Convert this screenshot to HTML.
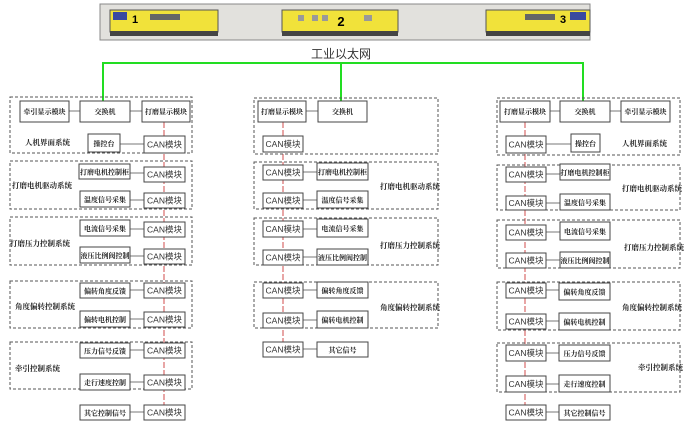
<!DOCTYPE html>
<html><head><meta charset="utf-8"><style>
body{margin:0;background:#fff;width:684px;height:423px;overflow:hidden}
svg{display:block}
.g{fill:none;stroke:#555;stroke-width:1;stroke-dasharray:3,2}
.b{fill:#fff;stroke:#444;stroke-width:1}
.t{font-family:"Liberation Serif","Noto Serif CJK SC",serif;font-size:7px;font-weight:bold;fill:#222;text-anchor:middle}
.c{font-family:"Liberation Sans","Noto Sans CJK SC",sans-serif;font-size:8.5px;fill:#333;text-anchor:middle}
.l{font-family:"Liberation Serif","Noto Serif CJK SC",serif;font-size:7.5px;font-weight:bold;fill:#222}
.k{stroke:#777;stroke-width:1}
.r{stroke:#d86a6a;stroke-width:1.2;stroke-dasharray:6,2}
.gr{stroke:#22dd22;stroke-width:2;fill:none}
</style></head><body>
<svg width="684" height="423" viewBox="0 0 684 423">
<rect x="100" y="4" width="490" height="36" fill="#e2e1dd" stroke="#888"/>
<g>
<rect x="110" y="10" width="108" height="22" fill="#f1e23a" stroke="#555"/>
<rect x="113" y="12" width="14" height="8" fill="#3a4aa0"/>
<text x="132" y="23" font-family="Liberation Sans" font-weight="bold" font-size="11">1</text>
<rect x="150" y="14" width="30" height="6" fill="#666"/>
<rect x="110" y="31" width="108" height="5" fill="#444"/>
<rect x="282" y="10" width="116" height="22" fill="#f1e23a" stroke="#555"/>
<rect x="298" y="15" width="6" height="6" fill="#999"/><rect x="312" y="15" width="6" height="6" fill="#999"/><rect x="322" y="15" width="6" height="6" fill="#999"/><rect x="364" y="15" width="8" height="6" fill="#999"/>
<text x="341" y="26" font-family="Liberation Sans" font-weight="bold" font-size="13" text-anchor="middle">2</text>
<rect x="282" y="31" width="116" height="5" fill="#444"/>
<rect x="486" y="10" width="104" height="22" fill="#f1e23a" stroke="#555"/>
<rect x="570" y="12" width="16" height="8" fill="#3a4aa0"/>
<text x="560" y="23" font-family="Liberation Sans" font-weight="bold" font-size="11">3</text>
<rect x="525" y="14" width="30" height="6" fill="#666"/>
<rect x="486" y="31" width="104" height="5" fill="#444"/>
</g>
<text x="341" y="58" font-family="Liberation Sans,'Noto Sans CJK SC',sans-serif" font-size="12" text-anchor="middle" fill="#333">工业以太网</text>
<polyline class="gr" points="103,101 103,63 583,63 583,101"/>
<line class="gr" x1="341" y1="63" x2="341" y2="101"/>

<line class="r" x1="164" y1="122" x2="164" y2="405"/>
<rect class="g" x="10" y="97" width="182" height="56"/>
<rect class="g" x="10" y="161" width="182" height="48"/>
<rect class="g" x="10" y="217" width="182" height="48"/>
<rect class="g" x="10" y="281" width="182" height="47"/>
<rect class="g" x="10" y="342" width="182" height="47"/>
<g class="k">
<line x1="69" y1="111" x2="80" y2="111"/><line x1="130" y1="111" x2="142" y2="111"/>
<line x1="120" y1="144" x2="144" y2="144"/><line x1="130" y1="173" x2="144" y2="173"/>
<line x1="130" y1="200" x2="144" y2="200"/><line x1="130" y1="229" x2="144" y2="229"/>
<line x1="130" y1="256" x2="144" y2="256"/><line x1="130" y1="290" x2="144" y2="290"/>
<line x1="130" y1="319" x2="144" y2="319"/><line x1="130" y1="350" x2="144" y2="350"/>
<line x1="130" y1="382" x2="144" y2="382"/><line x1="130" y1="412" x2="144" y2="412"/>
</g>
<rect class="b" x="20" y="101" width="49" height="21"/><text class="t" x="44.5" y="114">牵引显示模块</text>
<rect class="b" x="80" y="101" width="50" height="21"/><text class="t" x="105" y="114">交换机</text>
<rect class="b" x="142" y="101" width="48" height="21"/><text class="t" x="166" y="114">打磨显示模块</text>
<rect class="b" x="88" y="134" width="32" height="18"/><text class="t" x="104" y="146">操控台</text>
<rect class="b" x="144" y="136" width="41" height="17"/><text class="c" x="164.5" y="147.5">CAN模块</text>
<rect class="b" x="79" y="164" width="51" height="15"/><text class="t" x="104.5" y="174.5">打磨电机控制柜</text>
<rect class="b" x="144" y="167" width="41" height="15"/><text class="c" x="164.5" y="177.5">CAN模块</text>
<rect class="b" x="80" y="191" width="50" height="16"/><text class="t" x="105" y="202">温度信号采集</text>
<rect class="b" x="144" y="193" width="41" height="15"/><text class="c" x="164.5" y="203.5">CAN模块</text>
<rect class="b" x="80" y="220" width="50" height="16"/><text class="t" x="105" y="231">电流信号采集</text>
<rect class="b" x="144" y="222" width="41" height="15"/><text class="c" x="164.5" y="232.5">CAN模块</text>
<rect class="b" x="80" y="247" width="50" height="16"/><text class="t" x="105" y="258">液压比例阀控制</text>
<rect class="b" x="144" y="249" width="41" height="15"/><text class="c" x="164.5" y="259.5">CAN模块</text>
<rect class="b" x="80" y="283" width="50" height="15"/><text class="t" x="105" y="293.5">偏转角度反馈</text>
<rect class="b" x="144" y="283" width="41" height="15"/><text class="c" x="164.5" y="293.5">CAN模块</text>
<rect class="b" x="80" y="311" width="50" height="16"/><text class="t" x="105" y="322">偏转电机控制</text>
<rect class="b" x="144" y="312" width="41" height="15"/><text class="c" x="164.5" y="322.5">CAN模块</text>
<rect class="b" x="80" y="343" width="50" height="15"/><text class="t" x="105" y="353.5">压力信号反馈</text>
<rect class="b" x="144" y="343" width="41" height="15"/><text class="c" x="164.5" y="353.5">CAN模块</text>
<rect class="b" x="80" y="374" width="50" height="16"/><text class="t" x="105" y="385">走行速度控制</text>
<rect class="b" x="144" y="375" width="41" height="15"/><text class="c" x="164.5" y="385.5">CAN模块</text>
<rect class="b" x="80" y="405" width="50" height="15"/><text class="t" x="105" y="415.5">其它控制信号</text>
<rect class="b" x="144" y="405" width="41" height="15"/><text class="c" x="164.5" y="415.5">CAN模块</text>
<text class="l" x="25" y="145">人机界面系统</text>
<text class="l" x="12" y="188">打磨电机驱动系统</text>
<text class="l" x="10" y="246">打磨压力控制系统</text>
<text class="l" x="15" y="309">角度偏转控制系统</text>
<text class="l" x="15" y="371">牵引控制系统</text>

<line class="r" x1="283" y1="122" x2="283" y2="342"/>
<rect class="g" x="254" y="98" width="184" height="56"/>
<rect class="g" x="254" y="162" width="184" height="47"/>
<rect class="g" x="254" y="218" width="184" height="47"/>
<rect class="g" x="254" y="282" width="184" height="46"/>
<g class="k">
<line x1="306" y1="111" x2="318" y2="111"/>
<line x1="303" y1="172" x2="317" y2="172"/><line x1="303" y1="200" x2="317" y2="200"/>
<line x1="303" y1="229" x2="317" y2="229"/><line x1="303" y1="257" x2="317" y2="257"/>
<line x1="303" y1="290" x2="317" y2="290"/><line x1="303" y1="320" x2="317" y2="320"/>
<line x1="303" y1="349" x2="317" y2="349"/>
</g>
<rect class="b" x="258" y="101" width="48" height="21"/><text class="t" x="282" y="114">打磨显示模块</text>
<rect class="b" x="318" y="101" width="49" height="21"/><text class="t" x="342.5" y="114">交换机</text>
<rect class="b" x="263" y="136" width="40" height="16"/><text class="c" x="283" y="147">CAN模块</text>
<rect class="b" x="263" y="165" width="40" height="15"/><text class="c" x="283" y="175.5">CAN模块</text>
<rect class="b" x="317" y="163" width="51" height="17"/><text class="t" x="342.5" y="174.5">打磨电机控制柜</text>
<rect class="b" x="263" y="193" width="40" height="15"/><text class="c" x="283" y="203.5">CAN模块</text>
<rect class="b" x="317" y="191" width="51" height="17"/><text class="t" x="342.5" y="202.5">温度信号采集</text>
<rect class="b" x="263" y="221" width="40" height="16"/><text class="c" x="283" y="232">CAN模块</text>
<rect class="b" x="317" y="219" width="51" height="18"/><text class="t" x="342.5" y="231">电流信号采集</text>
<rect class="b" x="263" y="250" width="40" height="15"/><text class="c" x="283" y="260.5">CAN模块</text>
<rect class="b" x="317" y="249" width="51" height="16"/><text class="t" x="342.5" y="260">液压比例阀控制</text>
<rect class="b" x="263" y="283" width="40" height="15"/><text class="c" x="283" y="293.5">CAN模块</text>
<rect class="b" x="317" y="282" width="51" height="16"/><text class="t" x="342.5" y="293">偏转角度反馈</text>
<rect class="b" x="263" y="313" width="40" height="15"/><text class="c" x="283" y="323.5">CAN模块</text>
<rect class="b" x="317" y="311" width="51" height="17"/><text class="t" x="342.5" y="322.5">偏转电机控制</text>
<rect class="b" x="263" y="342" width="40" height="15"/><text class="c" x="283" y="352.5">CAN模块</text>
<rect class="b" x="317" y="342" width="51" height="15"/><text class="t" x="342.5" y="352.5">其它信号</text>
<text class="l" x="380" y="189">打磨电机驱动系统</text>
<text class="l" x="380" y="248">打磨压力控制系统</text>
<text class="l" x="380" y="310">角度偏转控制系统</text>

<line class="r" x1="525" y1="122" x2="525" y2="405"/>
<rect class="g" x="497" y="98" width="183" height="57"/>
<rect class="g" x="497" y="165" width="183" height="45"/>
<rect class="g" x="497" y="220" width="183" height="48"/>
<rect class="g" x="497" y="282" width="183" height="48"/>
<rect class="g" x="497" y="343" width="183" height="49"/>
<g class="k">
<line x1="550" y1="111" x2="560" y2="111"/><line x1="610" y1="111" x2="621" y2="111"/>
<line x1="546" y1="144" x2="571" y2="144"/>
<line x1="546" y1="174" x2="560" y2="174"/><line x1="546" y1="203" x2="560" y2="203"/>
<line x1="546" y1="232" x2="560" y2="232"/><line x1="546" y1="260" x2="560" y2="260"/>
<line x1="546" y1="290" x2="559" y2="290"/><line x1="546" y1="321" x2="559" y2="321"/>
<line x1="546" y1="353" x2="559" y2="353"/><line x1="546" y1="384" x2="559" y2="384"/>
<line x1="546" y1="412" x2="559" y2="412"/>
</g>
<rect class="b" x="500" y="101" width="50" height="21"/><text class="t" x="525" y="114">打磨显示模块</text>
<rect class="b" x="560" y="101" width="50" height="21"/><text class="t" x="585" y="114">交换机</text>
<rect class="b" x="621" y="101" width="49" height="21"/><text class="t" x="645.5" y="114">牵引显示模块</text>
<rect class="b" x="506" y="136" width="40" height="17"/><text class="c" x="526" y="147.5">CAN模块</text>
<rect class="b" x="571" y="134" width="29" height="18"/><text class="t" x="585.5" y="146">操控台</text>
<rect class="b" x="506" y="167" width="40" height="15"/><text class="c" x="526" y="177.5">CAN模块</text>
<rect class="b" x="560" y="164" width="50" height="16"/><text class="t" x="585" y="175">打磨电机控制柜</text>
<rect class="b" x="506" y="196" width="40" height="14"/><text class="c" x="526" y="206">CAN模块</text>
<rect class="b" x="560" y="194" width="50" height="16"/><text class="t" x="585" y="205">温度信号采集</text>
<rect class="b" x="506" y="225" width="40" height="15"/><text class="c" x="526" y="235.5">CAN模块</text>
<rect class="b" x="560" y="222" width="50" height="18"/><text class="t" x="585" y="234">电流信号采集</text>
<rect class="b" x="506" y="253" width="40" height="15"/><text class="c" x="526" y="263.5">CAN模块</text>
<rect class="b" x="560" y="252" width="50" height="16"/><text class="t" x="585" y="263">液压比例阀控制</text>
<rect class="b" x="506" y="283" width="40" height="15"/><text class="c" x="526" y="293.5">CAN模块</text>
<rect class="b" x="559" y="283" width="51" height="17"/><text class="t" x="584.5" y="294.5">偏转角度反馈</text>
<rect class="b" x="506" y="314" width="40" height="15"/><text class="c" x="526" y="324.5">CAN模块</text>
<rect class="b" x="559" y="313" width="51" height="17"/><text class="t" x="584.5" y="324.5">偏转电机控制</text>
<rect class="b" x="506" y="345" width="40" height="16"/><text class="c" x="526" y="356">CAN模块</text>
<rect class="b" x="559" y="345" width="51" height="16"/><text class="t" x="584.5" y="356">压力信号反馈</text>
<rect class="b" x="506" y="376" width="40" height="16"/><text class="c" x="526" y="387">CAN模块</text>
<rect class="b" x="559" y="375" width="51" height="17"/><text class="t" x="584.5" y="386.5">走行速度控制</text>
<rect class="b" x="506" y="405" width="40" height="15"/><text class="c" x="526" y="415.5">CAN模块</text>
<rect class="b" x="559" y="405" width="51" height="15"/><text class="t" x="584.5" y="415.5">其它控制信号</text>
<text class="l" x="622" y="146">人机界面系统</text>
<text class="l" x="622" y="191">打磨电机驱动系统</text>
<text class="l" x="624" y="250">打磨压力控制系统</text>
<text class="l" x="622" y="310">角度偏转控制系统</text>
<text class="l" x="638" y="370">牵引控制系统</text>
</svg>
</body></html>
